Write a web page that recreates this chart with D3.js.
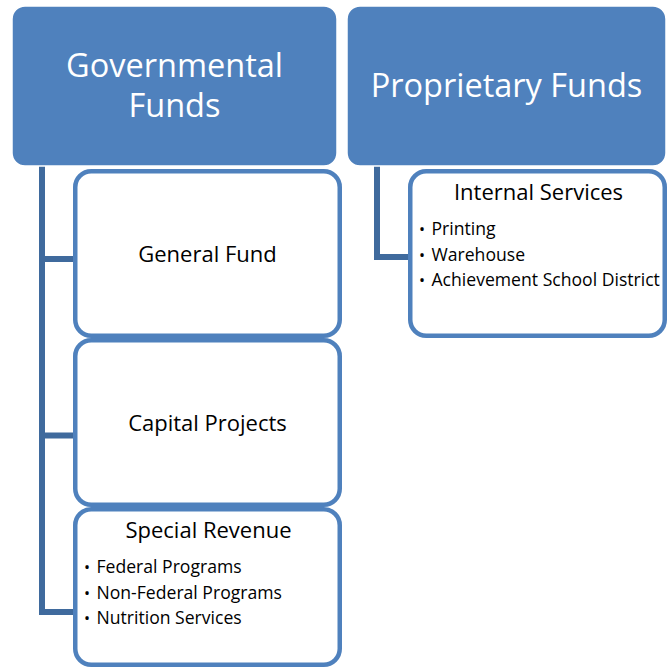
<!DOCTYPE html>
<html>
<head>
<meta charset="utf-8">
<script src="https://cdn.jsdelivr.net/npm/d3@7"></script>
<style>
  body { margin: 0; background: #fff; }
  text { font-family: "Open Sans", "Noto Sans", sans-serif; }
</style>
</head>
<body>
<script>
// data
const headers = ["Governmental Funds", "Proprietary Funds"];
const headerLines = [["Governmental", "Funds"], ["Proprietary Funds"]];
const children = [
    ["General Fund", "Capital Projects", "Special Revenue"],
    ["Internal Services"]
];
const childItems = {
    "Special Revenue": ["Federal Programs", "Non-Federal Programs", "Nutrition Services"],
    "Internal Services": ["Printing", "Warehouse", "Achievement School District"]
};

const W = 667, H = 670;
const accent = "#4F81BD";
const connColor = "#3F6A9D";

const svg = d3.select("body").append("svg")
    .attr("width", W)
    .attr("height", H);

const xCol = d3.scaleBand()
    .domain(headers)
    .range([12, 672])
    .paddingInner(10 / 335);

const rowStep = 169;
const childTop = 169;
const childOffset = 61;
const childW = 269;

headers.forEach((h, ci) => {
    const x0 = xCol(h);
    const hw = Math.min(xCol.bandwidth(), 666 - x0);
    const g = svg.append("g");

    // child boxes
    const kids = children[ci];
    const yRow = d3.scaleBand()
        .domain(kids)
        .range([childTop, childTop + rowStep * kids.length]);
    const yStub = d3.scalePoint()
        .domain(kids)
        .range(kids.length > 1 ? [259, 612] : [257, 257]);

    const connX = x0 + 30;
    const lastStub = yStub(kids[kids.length - 1]);

    // connector lines
    g.append("line")
        .attr("x1", connX).attr("x2", connX)
        .attr("y1", 166).attr("y2", lastStub + 3)
        .attr("stroke", connColor)
        .attr("stroke-width", 6);
    kids.forEach(k => {
        g.append("line")
            .attr("x1", connX - 3).attr("x2", x0 + childOffset + 2)
            .attr("y1", yStub(k)).attr("y2", yStub(k))
            .attr("stroke", connColor)
            .attr("stroke-width", 6);
    });

    kids.forEach(k => {
        const bx = x0 + childOffset;
        const by = yRow(k);
        const bw = Math.min(childW, 667 - bx);
        const bh = Math.min(yRow.bandwidth(), 667 - by);
        g.append("rect")
            .attr("x", bx + 2.25).attr("y", by + 2.25)
            .attr("width", bw - 4.5).attr("height", bh - 4.5)
            .attr("rx", 16).attr("ry", 16)
            .attr("fill", "#fff")
            .attr("stroke", accent)
            .attr("stroke-width", 4.5);

        const items = childItems[k];
        if (items) {
            g.append("text")
                .attr("x", bx + bw / 2 + 1)
                .attr("y", by + 31)
                .attr("text-anchor", "middle")
                .attr("font-size", 22)
                .attr("fill", "#000")
                .text(k);
            items.forEach((it, i) => {
                const ty = by + 66 + i * 25.7;
                g.append("text")
                    .attr("x", bx + 11)
                    .attr("y", ty)
                    .attr("font-size", 16)
                    .attr("fill", "#000")
                    .text("\u2022");
                g.append("text")
                    .attr("x", bx + 23.5)
                    .attr("y", ty)
                    .attr("font-size", 17.6)
                    .attr("fill", "#000")
                    .text(it);
            });
        } else {
            g.append("text")
                .attr("x", bx + bw / 2)
                .attr("y", by + bh / 2 + 8)
                .attr("text-anchor", "middle")
                .attr("font-size", 22)
                .attr("fill", "#000")
                .text(k);
        }
    });

    // header box
    g.append("rect")
        .attr("x", x0).attr("y", 6)
        .attr("width", hw).attr("height", 160)
        .attr("rx", 13).attr("ry", 13)
        .attr("fill", accent)
        .attr("stroke", "#fff")
        .attr("stroke-width", 1.5);

    const lines = headerLines[ci];
    const lh = 40;
    const cy = 86;
    lines.forEach((ln, i) => {
        g.append("text")
            .attr("x", x0 + hw / 2)
            .attr("y", cy + 11 + (i - (lines.length - 1) / 2) * lh)
            .attr("text-anchor", "middle")
            .attr("font-size", 32.5)
            .attr("fill", "#fff")
            .text(ln);
    });
});
</script>
</body>
</html>
